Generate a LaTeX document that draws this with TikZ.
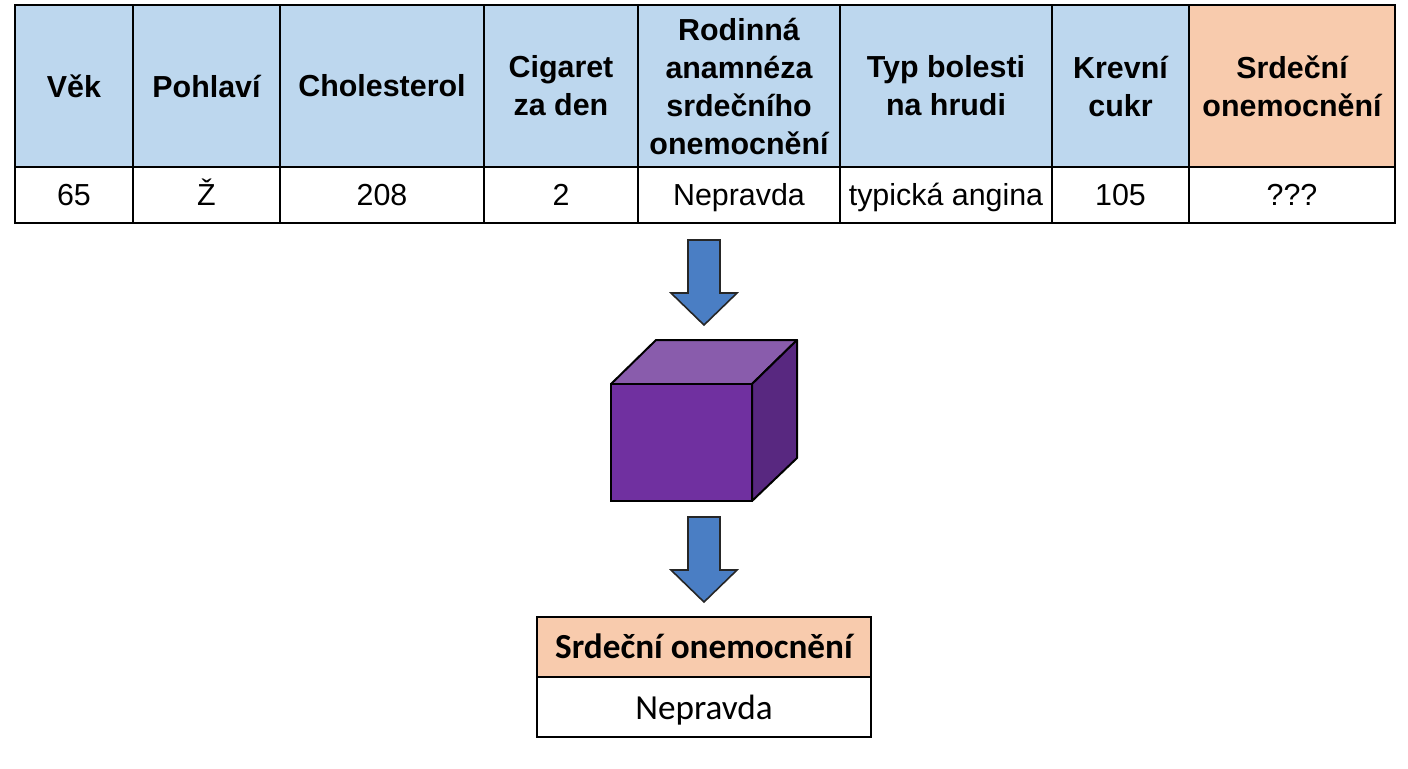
\documentclass[tikz,border=0pt]{standalone}
\usepackage{fontspec}
\setmainfont{Liberation Sans}
\newfontfamily\calibri{Carlito}
\definecolor{headblue}{RGB}{189,215,238}
\definecolor{headorange}{RGB}{248,203,173}
\definecolor{arrowblue}{RGB}{74,126,196}
\definecolor{cubefront}{RGB}{112,48,160}
\definecolor{cubetop}{RGB}{137,92,172}
\definecolor{cubeside}{RGB}{88,40,128}
\tikzset{
  headtext/.style={align=center, font=\fontsize{15.2}{19}\selectfont\bfseries},
  valtext/.style={anchor=base, font=\fontsize{15.2}{18}\selectfont},
  gridline/.style={line width=1.2pt},
  blockarrow/.style={fill=arrowblue, draw=black!85, line width=0.8pt, line join=miter},
  pics/downarrow/.style={code={
    \draw[blockarrow] (-16,0) -- (16,0) -- (16,53) -- (33,53) -- (0,85)
      -- (-33,53) -- (-16,53) -- cycle;}},
}
\begin{document}
\begin{tikzpicture}[x=0.5pt, y=-0.5pt]
  \useasboundingbox (0,0) rectangle (1408,768);
  % input record
  \fill[headblue] (15,5) rectangle (1189,167);
  \fill[headorange] (1189,5) rectangle (1395,167);
  \foreach \xa/\xb/\name/\head/\val in {
      15/133/age/{Věk}/65,
      133/280/sex/{Pohlaví}/Ž,
      280/484/chol/{Cholesterol}/208,
      484/638/cig/{Cigaret\\za den}/2,
      638/840/fam/{Rodinná\\anamnéza\\srdečního\\onemocnění}/Nepravda,
      840/1052/pain/{Typ bolesti\\na hrudi}/{typická angina},
      1052/1189/sugar/{Krevní\\cukr}/105,
      1189/1395/target/{Srdeční\\onemocnění}/???}
  {
    \node[headtext] (h-\name) at ({(\xa+\xb)/2},86) {\head};
    \node[valtext] (v-\name) at ({(\xa+\xb)/2},205) {\val};
    \draw[gridline] (\xa,5) rectangle (\xb,223);
  }
  \draw[gridline] (15,167) -- (1395,167);

  \pic at (704,240) {downarrow};

  % model
  \coordinate (model) at (611,384);
  \draw[fill=cubetop, line width=1pt, line join=round]
    (model) -- ++(45,-44) -- ++(141,0) -- ++(-45,44) -- cycle;
  \draw[fill=cubeside, line width=1pt, line join=round]
    (752,384) -- ++(45,-44) -- ++(0,118) -- ++(-45,43) -- cycle;
  \draw[fill=cubefront, line width=1pt] (model) rectangle ++(141,117);

  \pic at (704,517) {downarrow};

  % prediction
  \fill[headorange] (537,617) rectangle (871,677);
  \draw[gridline] (537,617) rectangle (871,737);
  \draw[gridline] (537,677) -- (871,677);
  \node[anchor=base, font=\calibri\fontsize{17.6}{20}\selectfont\bfseries] (p-head) at (704,658) {Srdeční onemocnění};
  \node[anchor=base, font=\calibri\fontsize{17.6}{20}\selectfont] (p-val) at (704,719) {Nepravda};
\end{tikzpicture}
\end{document}
